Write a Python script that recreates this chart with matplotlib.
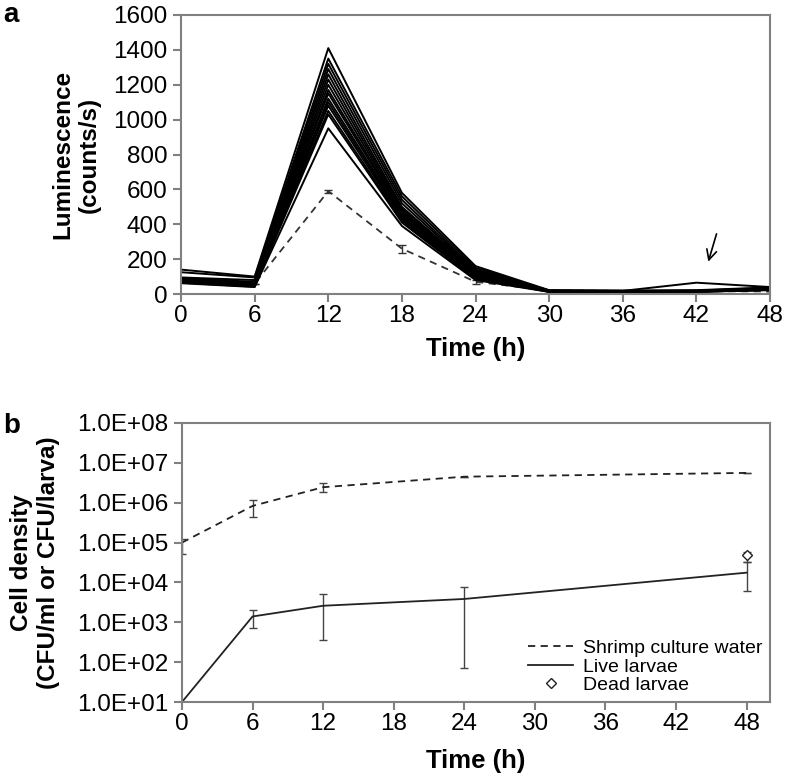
import numpy as np
import matplotlib.pyplot as plt
from matplotlib.lines import Line2D

plt.rcParams['font.family'] = ['Liberation Sans', 'DejaVu Sans']

# ---- panel a data: luminescence of individual larvae ----
hours = [0, 6, 12, 18, 24, 30, 36, 42, 48]
larvae_lum = [
    [140, 100, 1410, 580, 160, 22, 20, 22, 38],
    [125, 95, 1350, 560, 150, 20, 18, 65, 40],
    [95, 80, 1320, 540, 140, 20, 18, 20, 35],
    [90, 70, 1290, 520, 135, 18, 17, 18, 32],
    [88, 65, 1260, 500, 130, 18, 16, 18, 30],
    [85, 60, 1230, 490, 125, 17, 16, 17, 30],
    [82, 58, 1200, 480, 120, 17, 15, 16, 28],
    [80, 55, 1170, 470, 115, 16, 15, 16, 28],
    [78, 52, 1150, 460, 110, 16, 14, 15, 27],
    [75, 50, 1120, 450, 105, 15, 14, 15, 26],
    [72, 48, 1100, 440, 100, 15, 13, 14, 25],
    [70, 46, 1080, 430, 95, 14, 13, 14, 25],
    [68, 45, 1050, 420, 90, 14, 12, 13, 24],
    [65, 42, 1030, 410, 85, 13, 12, 13, 24],
    [62, 40, 950, 390, 80, 12, 11, 12, 22],
]
water_lum = [75, 60, 590, 260, 70, 20, 18, 16, 15]
water_lum_err = [0, 0, 8, 22, 10, 0, 0, 0, 0]

# ---- panel b data: cell density ----
b_hours = [0, 6, 12, 24, 48]
water_cfu = [1.0e5, 8.3e5, 2.45e6, 4.5e6, 5.6e6]
water_lo = [5.1e4, 4.5e5, 1.9e6, 4.5e6, 5.6e6]
water_hi = [1.2e5, 1.2e6, 3.2e6, 4.5e6, 5.6e6]
live_cfu = [1.0e1, 1.4e3, 2.6e3, 3.85e3, 1.76e4]
live_lo = [1.0e1, 7.1e2, 3.7e2, 72, 6.2e3]
live_hi = [1.0e1, 2.0e3, 5.1e3, 7.6e3, 3.2e4]
dead_hour = [48]
dead_cfu = [4.9e4]
dead_lo = [3.3e4]
dead_hi = [5.9e4]

fig = plt.figure(figsize=(7.85, 7.77), dpi=100)
grey = '#808080'


def style_axes(ax):
    for s in ax.spines.values():
        s.set_color(grey)
        s.set_linewidth(1.5)
    ax.tick_params(direction='out', length=6, width=1.5, color=grey,
                   labelsize=17.5, pad=4)
    ax.tick_params(axis='x', pad=2)


# panel a
ax1 = fig.add_axes([0.2306, 0.6216, 0.7504, 0.3591])
for vals in larvae_lum:
    ax1.plot(hours, vals, color='black', linewidth=1.4)
ax1.errorbar(hours, water_lum, yerr=water_lum_err, color='#333333', linestyle=(0, (4, 3)),
             linewidth=1.3, capsize=3, elinewidth=1, zorder=1)
ax1.annotate('', xy=(42.9, 170), xytext=(43.7, 360),
             arrowprops=dict(arrowstyle='->', color='black', lw=1.2, mutation_scale=18))
ax1.set_xlim(0, 48)
ax1.set_ylim(0, 1600)
ax1.set_xticks(range(0, 49, 6))
ax1.set_yticks(range(0, 1601, 200))
style_axes(ax1)
ax1.set_xlabel('Time (h)', fontsize=18.5, fontweight='bold')
ax1.xaxis.set_label_coords(0.5, -0.155)
ax1.set_ylabel('Luminescence\n(counts/s)', fontsize=17.5, fontweight='bold')
ax1.yaxis.set_label_coords(-0.136, 0.5)
fig.text(0.004, 0.9717, 'a', fontsize=20, fontweight='bold', va='baseline')

# panel b
ax2 = fig.add_axes([0.2318, 0.0965, 0.7492, 0.3591])
w_err = [np.array(water_cfu) - np.array(water_lo), np.array(water_hi) - np.array(water_cfu)]
l_err = [np.array(live_cfu) - np.array(live_lo), np.array(live_hi) - np.array(live_cfu)]
d_err = [np.array(dead_cfu) - np.array(dead_lo), np.array(dead_hi) - np.array(dead_cfu)]
ax2.errorbar(b_hours, water_cfu, yerr=w_err, color='#222222', linestyle=(0, (4, 3)),
             linewidth=1.3, capsize=3, elinewidth=1, ecolor='#444444')
ax2.errorbar(b_hours, live_cfu, yerr=l_err, color='#222222', linestyle='-',
             linewidth=1.3, capsize=3, elinewidth=1, ecolor='#444444')
ax2.errorbar(dead_hour, dead_cfu, yerr=d_err, color='#444444', linestyle='none',
             marker='D', markersize=5, markerfacecolor='white', markeredgecolor='#222222',
             capsize=3, elinewidth=1)
ax2.set_yscale('log')
ax2.set_xlim(0, 50)
ax2.set_ylim(1e1, 1e8)
ax2.set_xticks(range(0, 49, 6))
ax2.set_yticks([10.0 ** k for k in range(1, 9)])
ax2.set_yticklabels(['1.0E+%02d' % k for k in range(1, 9)])
ax2.minorticks_off()
style_axes(ax2)
ax2.set_xlabel('Time (h)', fontsize=18.5, fontweight='bold')
ax2.xaxis.set_label_coords(0.5, -0.168)
ax2.set_ylabel('Cell density\n(CFU/ml or CFU/larva)', fontsize=17.5, fontweight='bold')
ax2.yaxis.set_label_coords(-0.2075, 0.5)
handles = [
    Line2D([], [], color='#222222', linestyle=(0, (4, 3)), linewidth=1.3),
    Line2D([], [], color='#222222', linestyle='-', linewidth=1.3),
    Line2D([], [], color='#222222', linestyle='none', marker='D', markersize=5,
           markerfacecolor='white'),
]
ax2.legend(handles, ['Shrimp culture water', 'Live larvae', 'Dead larvae'],
           loc='lower right', frameon=False, fontsize=14, handlelength=2.3,
           labelspacing=0.05, borderaxespad=0.2, handletextpad=0.5, borderpad=0.2)
fig.text(0.004, 0.4427, 'b', fontsize=20, fontweight='bold', va='baseline')

fig.savefig('out.png', dpi=100)
